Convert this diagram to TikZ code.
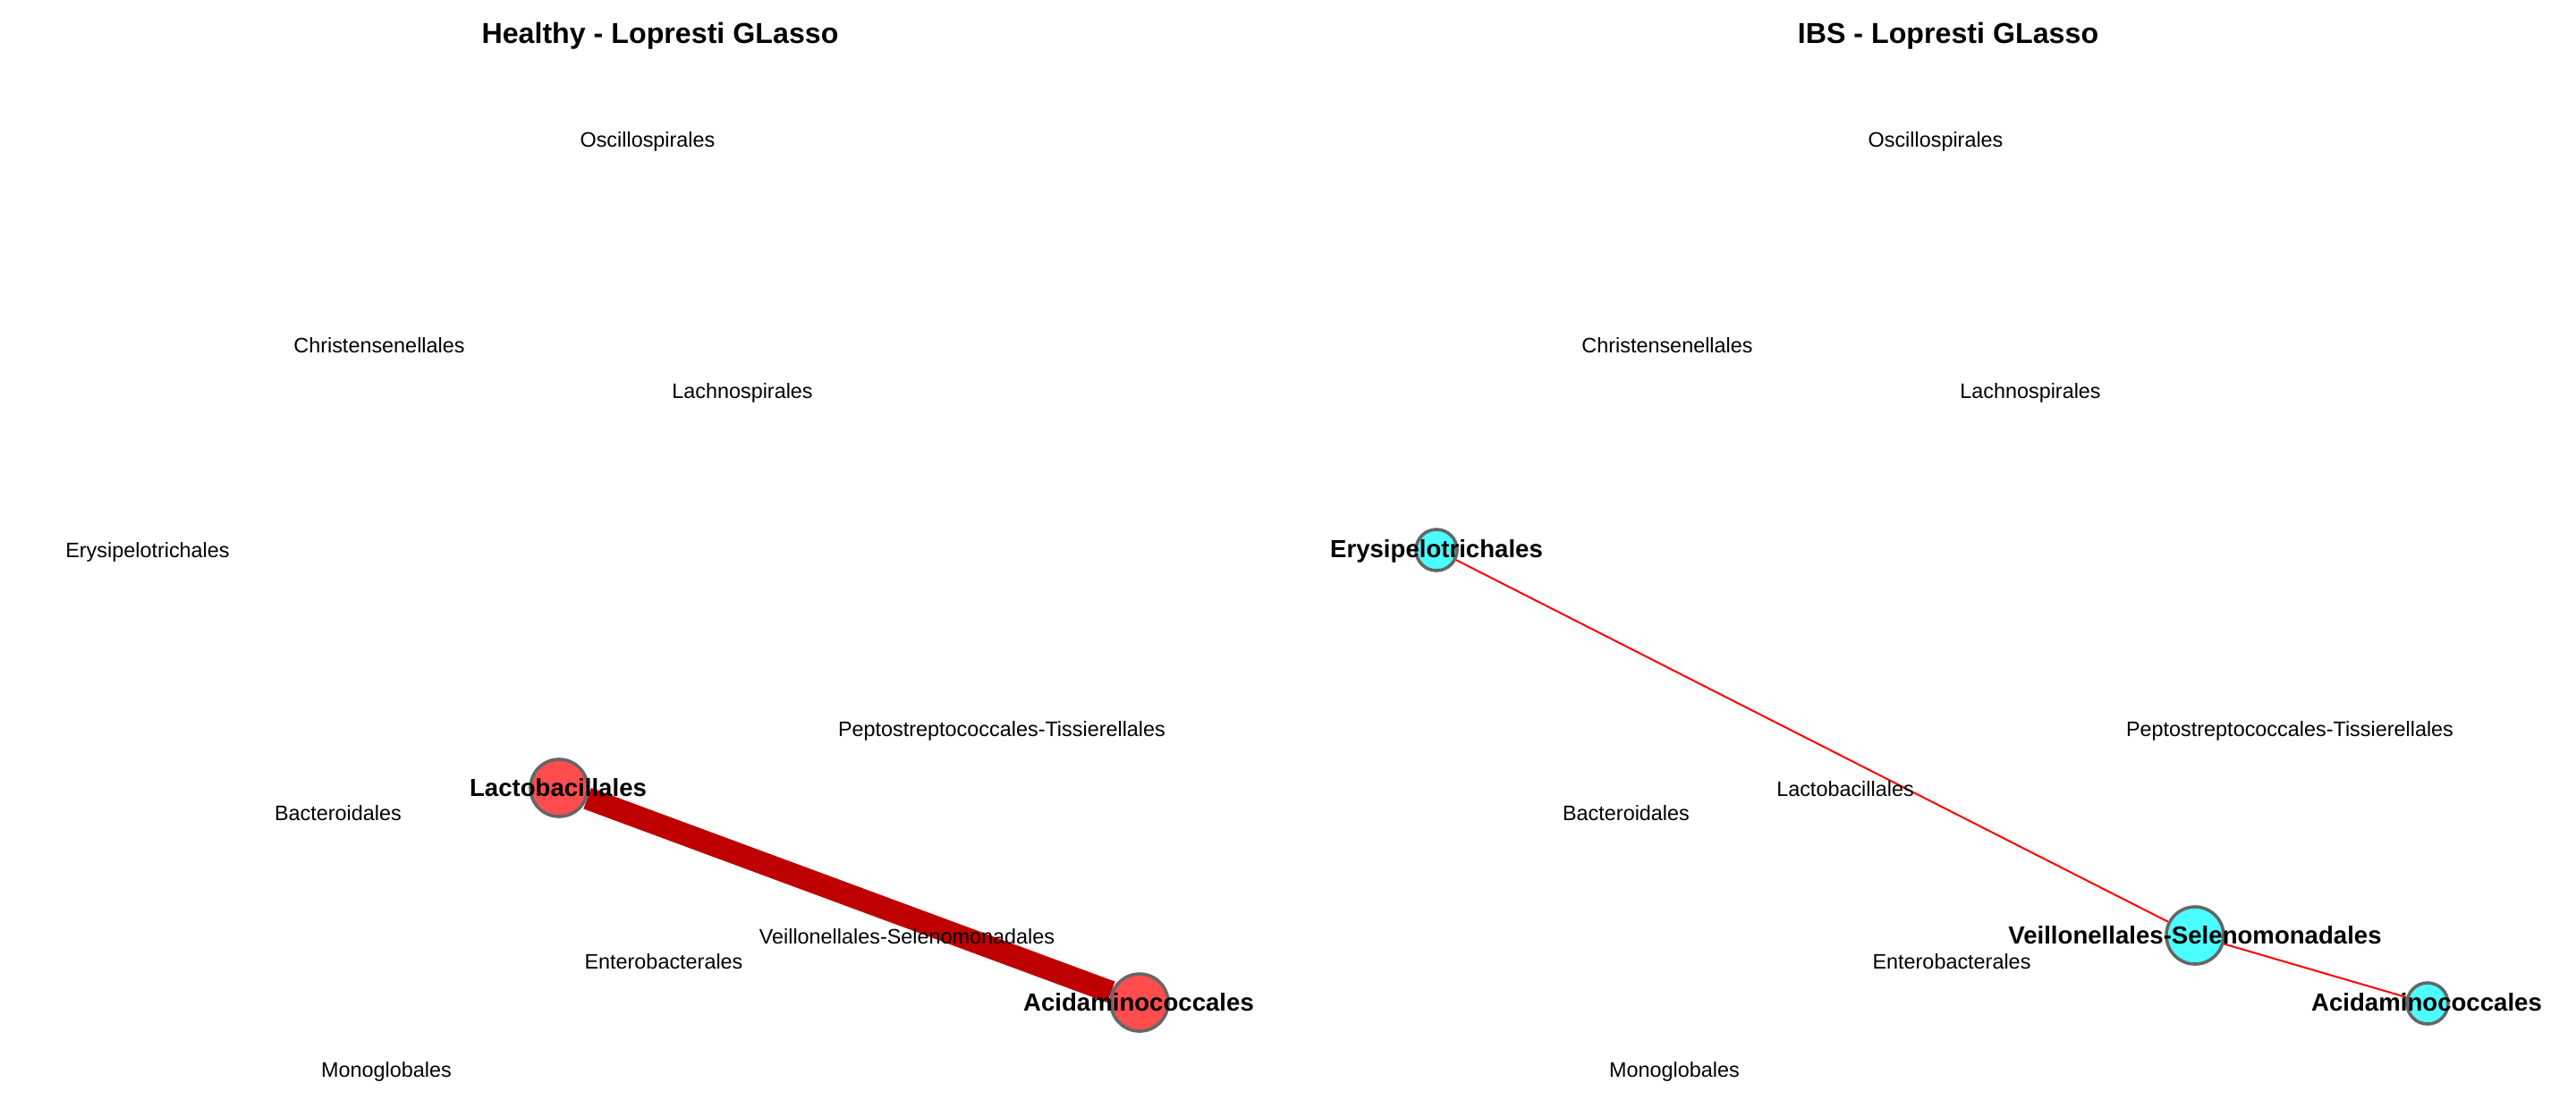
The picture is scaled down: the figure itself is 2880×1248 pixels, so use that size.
\documentclass[tikz,border=0pt]{standalone}
\usepackage{fontspec}
\setmainfont{Liberation Sans}
\usetikzlibrary{backgrounds}
\definecolor{edgedark}{RGB}{190,0,0}
\definecolor{rimgray}{RGB}{102,102,102}
\definecolor{vtxred}{RGB}{255,0,0}
\definecolor{vtxcyan}{RGB}{0,255,255}
\definecolor{lnred}{RGB}{255,0,0}
\tikzset{
  lbl/.style={inner sep=0pt, yshift=-1pt, font=\fontsize{11.7}{13}\selectfont},
  blbl/.style={inner sep=0pt, yshift=-0.5pt, font=\fontsize{13.8}{15}\selectfont\bfseries},
  ttl/.style={inner sep=0pt, yshift=-0.5pt, font=\fontsize{16.1}{18}\selectfont\bfseries},
  vred/.style={circle, draw=rimgray, line width=1.8pt, fill=vtxred, fill opacity=0.7, draw opacity=1, inner sep=0pt, minimum size=#1},
  vcyan/.style={circle, draw=rimgray, line width=1.8pt, fill=vtxcyan, fill opacity=0.7, draw opacity=1, inner sep=0pt, minimum size=#1},
  thickedge/.style={draw=edgedark, line width=12.5pt},
  thinedge/.style={draw=lnred, line width=1pt}
}
\begin{document}
\begin{tikzpicture}[x=0.5pt,y=-0.5pt]
\useasboundingbox (0,0) rectangle (2880,1248);
% titles
\node[ttl] (t1) at (738,39) {Healthy - Lopresti GLasso};
\node[ttl] (t2) at (2178,39) {IBS - Lopresti GLasso};
% ---------- left panel ----------
\node[vred=32pt] (Llact) at (625,881) {};
\node[vred=32pt] (Lacid) at (1274,1121) {};
\begin{pgfonlayer}{background}
\fill[white] (0,0) rectangle (2880,1248);
\draw[thickedge] (Llact) -- (Lacid);
\end{pgfonlayer}
\node[lbl] (Losc) at (724,156) {Oscillospirales};
\node[lbl] (Lchr) at (424,384) {Christensenellales};
\node[lbl] (Llac) at (830,437) {Lachnospirales};
\node[lbl] (Lery) at (165,615) {Erysipelotrichales};
\node[lbl] (Lpep) at (1120,815) {Peptostreptococcales-Tissierellales};
\node[blbl] (LlactL) at (624,880) {Lactobacillales};
\node[lbl] (Lbac) at (378,907) {Bacteroidales};
\node[lbl] (Lvei) at (1014,1045) {Veillonellales-Selenomonadales};
\node[lbl] (Lent) at (742,1073) {Enterobacterales};
\node[blbl] (LacidL) at (1273,1120) {Acidaminococcales};
\node[lbl] (Lmon) at (432,1196) {Monoglobales};
% ---------- right panel ----------
\node[vcyan=23pt] (Rery) at (1606,615) {};
\node[vcyan=32pt] (Rvei) at (2454,1046) {};
\node[vcyan=23pt] (Racid) at (2714,1122) {};
\begin{pgfonlayer}{background}
\draw[thinedge] (Rery) -- (Rvei);
\draw[thinedge] (Rvei) -- (Racid);
\end{pgfonlayer}
\node[lbl] (Rosc) at (2164,156) {Oscillospirales};
\node[lbl] (Rchr) at (1864,384) {Christensenellales};
\node[lbl] (Rlac) at (2270,437) {Lachnospirales};
\node[blbl] (ReryL) at (1606,615) {Erysipelotrichales};
\node[lbl] (Rpep) at (2560,815) {Peptostreptococcales-Tissierellales};
\node[lbl] (Rlact) at (2063,880) {Lactobacillales};
\node[lbl] (Rbac) at (1818,907) {Bacteroidales};
\node[blbl] (RveiL) at (2454,1045) {Veillonellales-Selenomonadales};
\node[lbl] (Rent) at (2182,1073) {Enterobacterales};
\node[blbl] (RacidL) at (2713,1120) {Acidaminococcales};
\node[lbl] (Rmon) at (1872,1196) {Monoglobales};
\end{tikzpicture}
\end{document}
